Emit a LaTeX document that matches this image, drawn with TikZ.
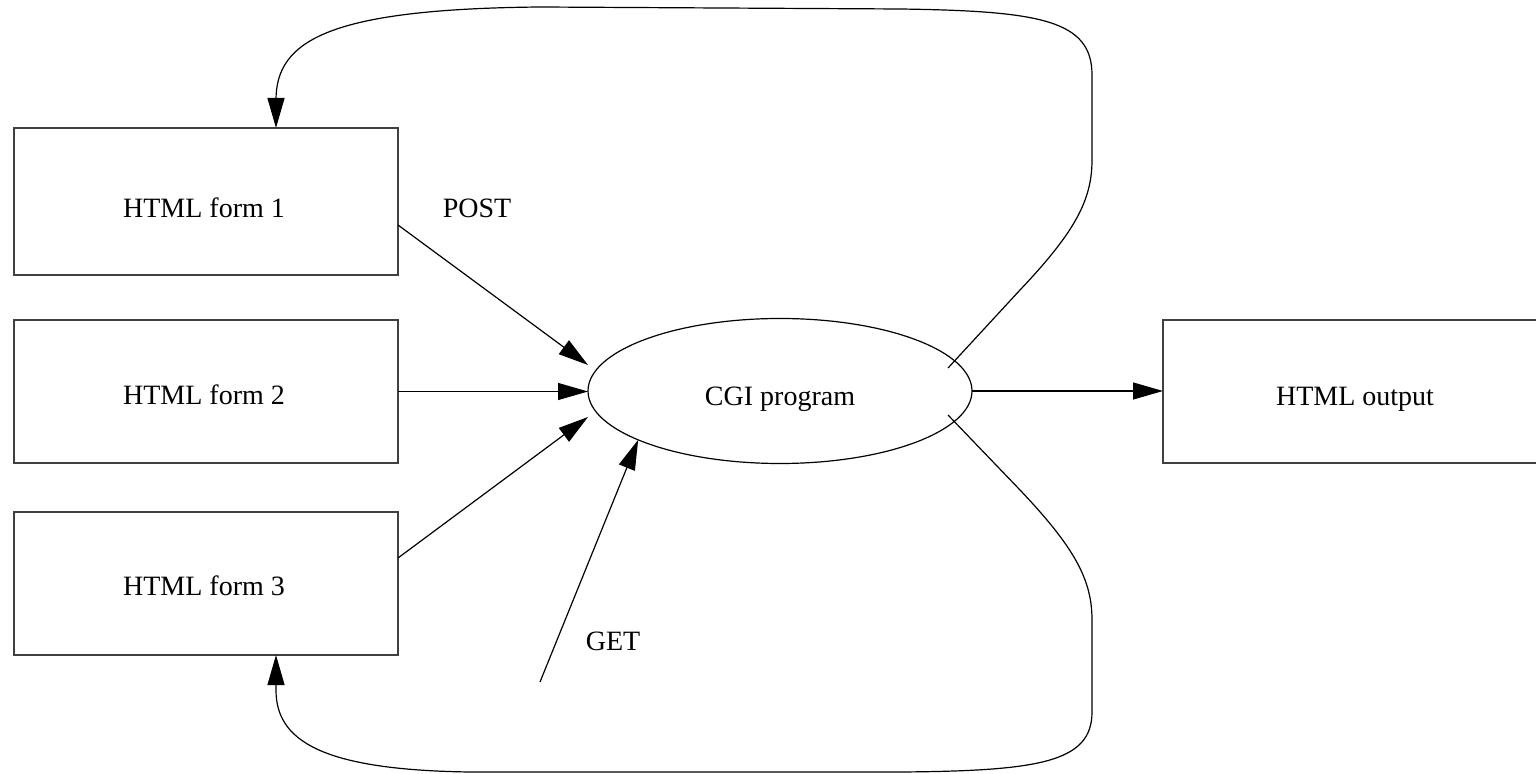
\documentclass[tikz,border=0pt]{standalone}
\usepackage{fontspec}
\setmainfont{Liberation Serif}
\usetikzlibrary{arrows.meta,calc,shapes.geometric}
\begin{document}
\begin{tikzpicture}[x=0.5pt,y=-0.5pt,
  box/.style={draw=black!75,line width=0.75pt,rectangle,inner sep=0pt,outer sep=0pt},
  prog/.style={draw=black,line width=0.6pt,ellipse,inner sep=0pt,outer sep=0pt,minimum width=192pt,minimum height=72.5pt},
  txt/.style={font=\fontsize{14pt}{16pt}\selectfont,anchor=base,inner sep=0pt},
  conn/.style={draw=black,line width=0.6pt},
  arr/.style={conn,-{Triangle[length=15pt,width=8.5pt]}}]
\useasboundingbox (0,0) rectangle (1536,774);

\node[box,minimum width=192pt,minimum height=73.5pt] (f1) at (206,201.5) {};
\node[box,minimum width=192pt,minimum height=71.5pt] (f2) at (206,391.5) {};
\node[box,minimum width=192pt,minimum height=71.5pt] (f3) at (206,583.5) {};
\node[box,minimum width=188pt,minimum height=71.5pt] (out) at (1351,391.5) {};
\node[prog] (cgi) at (780,391) {};

\node[txt] (t1) at (204,218) {HTML form 1};
\node[txt] (t2) at (204,405) {HTML form 2};
\node[txt] (t3) at (204,596) {HTML form 3};
\node[txt] (tout) at (1355,406) {HTML output};
\node[txt] (tcgi) at (780,406) {CGI program};
\node[txt] (post) at (477,218) {POST};
\node[txt] (get) at (613,650) {GET};

\coordinate (g0) at (540,682);

\draw[arr] ([yshift=-11.75pt]f1.east) -- ([yshift=13pt]cgi.west);
\draw[arr] (f2.east) -- (f2.east -| cgi.west);
\draw[arr] ([yshift=12.75pt]f3.east) -- ([yshift=-13pt]cgi.west);
\draw[arr] (g0) -- (cgi.199);
\draw[arr] (cgi.east) -- (cgi.east -| out.west);

\draw[arr] ($(cgi.center)+(168,-23)$) -- (1020,290) .. controls (1075,232) and (1092,200) .. (1092,160) -- (1092,75) .. controls (1092,20) and (1040,11) .. (900,9) -- (540,7) .. controls (330,9) and (276,40) .. (276,100) -- ([xshift=35pt]f1.north);

\draw[arr] ($(cgi.center)+(168,24)$) -- (1020,490) .. controls (1075,548) and (1092,580) .. (1092,620) -- (1092,712) .. controls (1092,762) and (1040,771) .. (900,772) -- (470,772) .. controls (320,770) and (276,740) .. (276,690) -- ([xshift=35pt]f3.south);
\end{tikzpicture}
\end{document}
